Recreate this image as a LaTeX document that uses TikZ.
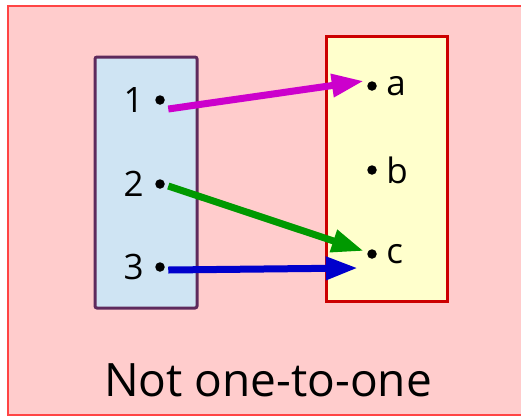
\documentclass[tikz,border=0pt]{standalone}
\usepackage{fontspec}
\setmainfont{Open Sans}
\usetikzlibrary{arrows.meta,positioning}
\definecolor{bgpink}{HTML}{FFCCCC}
\definecolor{bgred}{HTML}{FF4444}
\definecolor{dompurple}{HTML}{5E2A5C}
\definecolor{domblue}{HTML}{CFE4F3}
\definecolor{codred}{HTML}{CC0000}
\definecolor{codyellow}{HTML}{FFFFCC}
\definecolor{fmagenta}{HTML}{CC00CC}
\definecolor{fgreen}{HTML}{009900}
\definecolor{fblue}{HTML}{0000CC}

\begin{document}
\begin{tikzpicture}[
    x=1pt, y=-1pt,
    font=\fontsize{35}{40}\selectfont,
    dot/.style={circle,fill=black,inner sep=0pt,minimum size=9.5pt,outer sep=3.5pt},
    lbl/.style={inner sep=0pt},
    arr/.style={line width=7pt,-{Triangle[length=32pt,width=22pt]}}]

  \useasboundingbox (0,0) rectangle (521,416);

  % ---------------- frame and the two sets
  \draw[bgred,fill=bgpink,line width=2pt] (8,6) rectangle (540,415);
  \draw[dompurple,fill=domblue,line width=3pt,rounded corners=2pt] (95,57) rectangle (197,308);
  \draw[codred,fill=codyellow,line width=3pt] (326,36) rectangle (447,301);

  % ---------------- domain
  \node[dot] (d1) at (160,100) {};
  \node[dot] (d2) at (160,184) {};
  \node[dot] (d3) at (160,267) {};
  \node[lbl,left=8pt of d1] (l1) {1};
  \node[lbl,left=8pt of d2] (l2) {2};
  \node[lbl,left=8pt of d3] (l3) {3};

  % ---------------- codomain
  \node[dot] (da) at (372,86) {};
  \node[dot] (db) at (372,170) {};
  \node[dot] (dc) at (372,254) {};
  \node[lbl,right=6pt of da] (la) {a};
  \node[lbl,right=6pt of db] (lb) {b};
  \node[lbl,right=6pt of dc] (lc) {c};

  % ---------------- the map
  \draw[arr,fmagenta] ([yshift=-9pt]d1.east) -- ([yshift=5pt]da.west);
  \draw[arr,fgreen] ([yshift=-2pt]d2.east) -- ([yshift=3pt]dc.west);
  \draw[arr,fblue] ([yshift=-3pt]d3.east) -- ([yshift=-14pt,xshift=-6pt]dc.west);

  \node[font=\fontsize{46}{50}\selectfont] (title) at (268,380) {Not one-to-one};
\end{tikzpicture}
\end{document}
